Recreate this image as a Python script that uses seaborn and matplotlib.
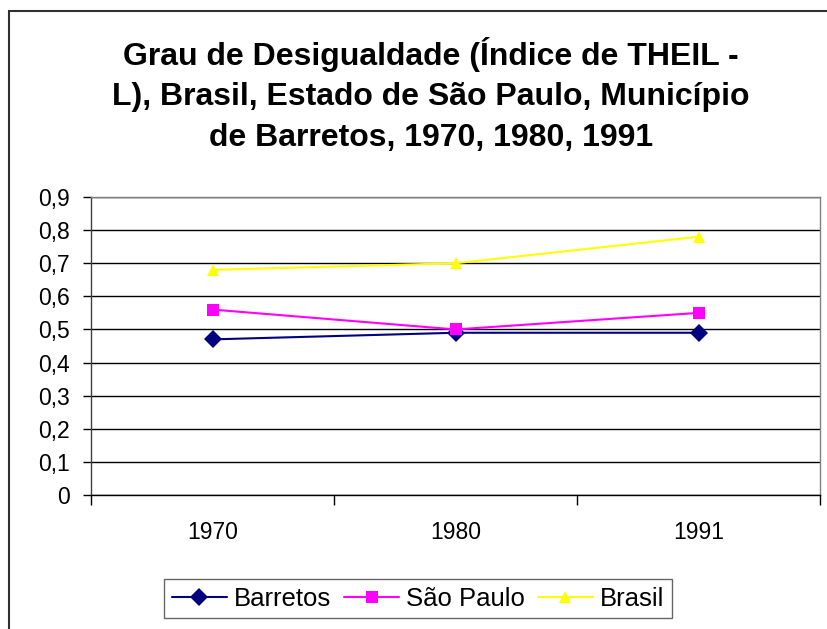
import matplotlib
matplotlib.use("Agg")
import matplotlib.pyplot as plt
import matplotlib.patches as mpatches
from matplotlib.ticker import FixedLocator, FuncFormatter
import seaborn as sns
import pandas as pd

years = ["1970", "1980", "1991"]
barretos = [0.47, 0.49, 0.49]
sao_paulo = [0.56, 0.50, 0.55]
brasil = [0.68, 0.70, 0.78]
series_names = ["Barretos", "São Paulo", "Brasil"]
title = "Grau de Desigualdade (Índice de THEIL -\nL), Brasil, Estado de São Paulo, Município\nde Barretos, 1970, 1980, 1991"
y_ticks = [0, 0.1, 0.2, 0.3, 0.4, 0.5, 0.6, 0.7, 0.8, 0.9]

rows = []
for name, vals in zip(series_names, [barretos, sao_paulo, brasil]):
    for yr, v in zip(years, vals):
        rows.append({"Ano": yr, "Valor": v, "Série": name})
df = pd.DataFrame(rows)

sns.set_theme(style="white")
plt.rcParams["font.family"] = ["Liberation Sans", "DejaVu Sans"]
plt.rcParams["text.color"] = "black"

fig = plt.figure(figsize=(8.28, 6.29), dpi=100)
ax = fig.add_axes([91/828, 1 - 495/629, (820-91)/828, (495-197)/629])

palette = {"Barretos": "#000080", "São Paulo": "#FF00FF", "Brasil": "#FFFF00"}
markers = {"Barretos": "D", "São Paulo": "s", "Brasil": "^"}
sns.lineplot(data=df, x="Ano", y="Valor", hue="Série", style="Série",
             palette=palette, markers=markers, dashes=False,
             markersize=9, linewidth=1.5, markeredgewidth=0,
             ax=ax, legend=True, sort=False)

ax.set_xlim(-0.5, 2.5)
ax.set_ylim(0, 0.9)
ax.set_xlabel("")
ax.set_ylabel("")
ax.set_yticks(y_ticks)
ax.yaxis.set_major_formatter(FuncFormatter(lambda v, p: ("%g" % round(v, 1)).replace(".", ",")))
ax.grid(axis="y", color="black", linewidth=1)
ax.set_axisbelow(True)
ax.tick_params(axis="y", which="major", length=6, width=1, color="black",
               labelsize=16.5, pad=9, left=True, direction="out")
ax.tick_params(axis="x", which="major", length=0, labelsize=16.5, pad=19)
ax.xaxis.set_minor_locator(FixedLocator([-0.5, 0.5, 1.5, 2.5]))
ax.tick_params(axis="x", which="minor", length=7, width=1, color="black",
               bottom=True, direction="out")
for lbl in ax.get_xticklabels() + ax.get_yticklabels():
    lbl.set_color("black")

ax.spines["left"].set_color("#404040")
ax.spines["bottom"].set_color("black")
ax.spines["top"].set_color("#808080")
ax.spines["right"].set_color("#808080")
for s in ax.spines.values():
    s.set_linewidth(1)

handles, labels = ax.get_legend_handles_labels()
ax.get_legend().remove()
leg = fig.legend(handles, labels, loc="center", bbox_to_anchor=(418/828, 1 - 598.5/629),
                 ncol=3, frameon=True, fancybox=False, edgecolor="#404040",
                 fontsize=18.5, handlelength=2.15, columnspacing=0.5, handletextpad=0.27,
                 borderpad=0.3, borderaxespad=0)
leg.get_frame().set_linewidth(1)
for t in leg.get_texts():
    t.set_color("black")

fig.text(431/828, 1 - 95/629, title, ha="center", va="center", fontsize=23,
         fontweight="bold", linespacing=1.45, color="black")

border = mpatches.Rectangle((9/828, -0.1), 1.0, 1 - 11/629 + 0.1, transform=fig.transFigure,
                            fill=False, edgecolor="#303030", linewidth=1.5, clip_on=False)
fig.patches.append(border)

fig.savefig("out.png", dpi=100)
